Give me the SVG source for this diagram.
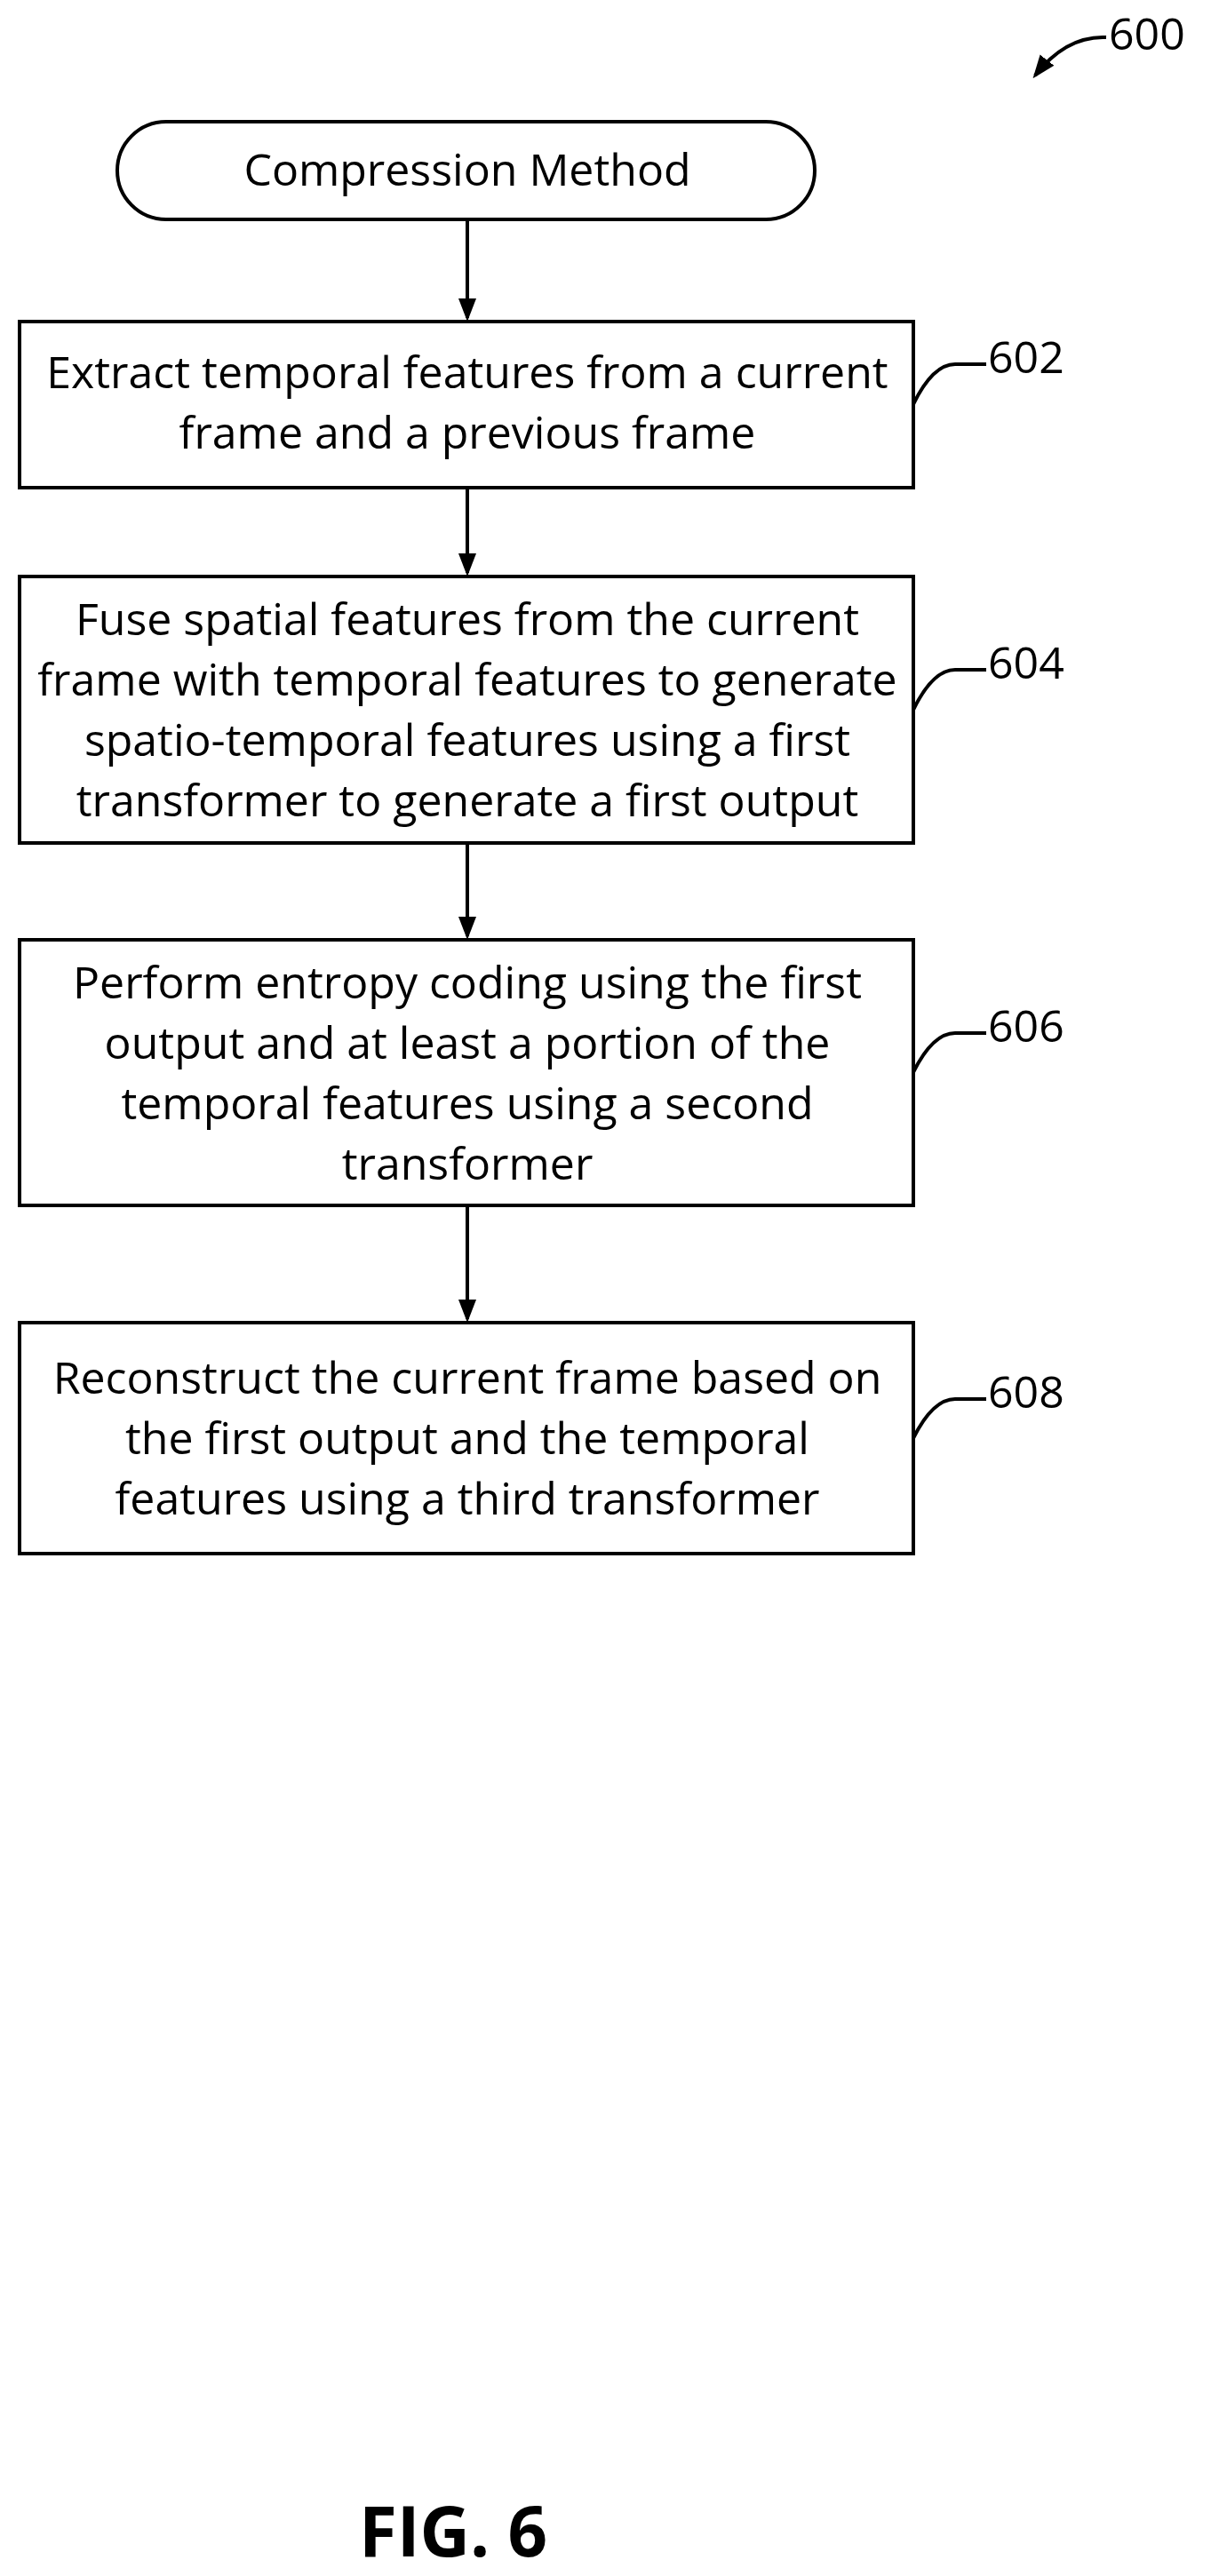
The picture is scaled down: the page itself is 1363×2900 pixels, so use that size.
<svg xmlns="http://www.w3.org/2000/svg" width="1363" height="2900" viewBox="0 0 1363 2900">
<style>
.b{fill:#fff;stroke:#000;stroke-width:4}
.t{font-family:"Open Sans","Liberation Sans",sans-serif;font-size:50px;text-anchor:middle;fill:#000}
.l{font-family:"Open Sans","Liberation Sans",sans-serif;font-size:50px;fill:#000}
.c{fill:none;stroke:#000;stroke-width:4}
</style>
<defs>
<marker id="h" markerWidth="26" markerHeight="26" refX="22" refY="13" orient="auto" markerUnits="userSpaceOnUse"><path d="M0,3 L26,13 L0,23 z"/></marker></defs>
<rect width="1363" height="2900" fill="#fff"/>
<g id="connectors">
<line class="c" x1="526" y1="247" x2="526" y2="358" marker-end="url(#h)"/>
<line class="c" x1="526" y1="549" x2="526" y2="645" marker-end="url(#h)"/>
<line class="c" x1="526" y1="949" x2="526" y2="1054" marker-end="url(#h)"/>
<line class="c" x1="526" y1="1357" x2="526" y2="1485" marker-end="url(#h)"/>
<path class="c" d="M1028,455 Q1050,410 1075,410 L1110,410"/>
<path class="c" d="M1028,799 Q1050,754 1075,754 L1110,754"/>
<path class="c" d="M1028,1207 Q1050,1163 1075,1163 L1110,1163"/>
<path class="c" d="M1028,1619 Q1050,1575 1075,1575 L1110,1575"/>
<path class="c" d="M1245,42 Q1200,40 1165,85" marker-end="url(#h)"/>
</g>
<g id="n600"><text class="l" x="1248" y="56">600</text></g>
<g id="start"><rect class="b" x="132" y="137" width="785" height="110" rx="55"/><text class="t" x="526" y="209">Compression Method</text></g>
<g id="n602"><rect class="b" x="22" y="362" width="1006" height="187"/>
<text class="t" x="526" y="437">Extract temporal features from a current</text>
<text class="t" x="526" y="505">frame and a previous frame</text>
<text class="l" x="1112" y="420">602</text></g>
<g id="n604"><rect class="b" x="22" y="649" width="1006" height="300"/>
<text class="t" x="526" y="715">Fuse spatial features from the current</text>
<text class="t" x="526" y="783">frame with temporal features to generate</text>
<text class="t" x="526" y="851">spatio-temporal features using a first</text>
<text class="t" x="526" y="919">transformer to generate a first output</text>
<text class="l" x="1112" y="764">604</text></g>
<g id="n606"><rect class="b" x="22" y="1058" width="1006" height="299"/>
<text class="t" x="526" y="1124">Perform entropy coding using the first</text>
<text class="t" x="526" y="1192">output and at least a portion of the</text>
<text class="t" x="526" y="1260">temporal features using a second</text>
<text class="t" x="526" y="1328">transformer</text>
<text class="l" x="1112" y="1173">606</text></g>
<g id="n608"><rect class="b" x="22" y="1489" width="1006" height="260"/>
<text class="t" x="526" y="1569">Reconstruct the current frame based on</text>
<text class="t" x="526" y="1637">the first output and the temporal</text>
<text class="t" x="526" y="1705">features using a third transformer</text>
<text class="l" x="1112" y="1585">608</text></g>
<text x="510" y="2878" font-family="'Open Sans','Liberation Sans',sans-serif" font-weight="bold" font-size="78" text-anchor="middle">FIG. 6</text>
</svg>
